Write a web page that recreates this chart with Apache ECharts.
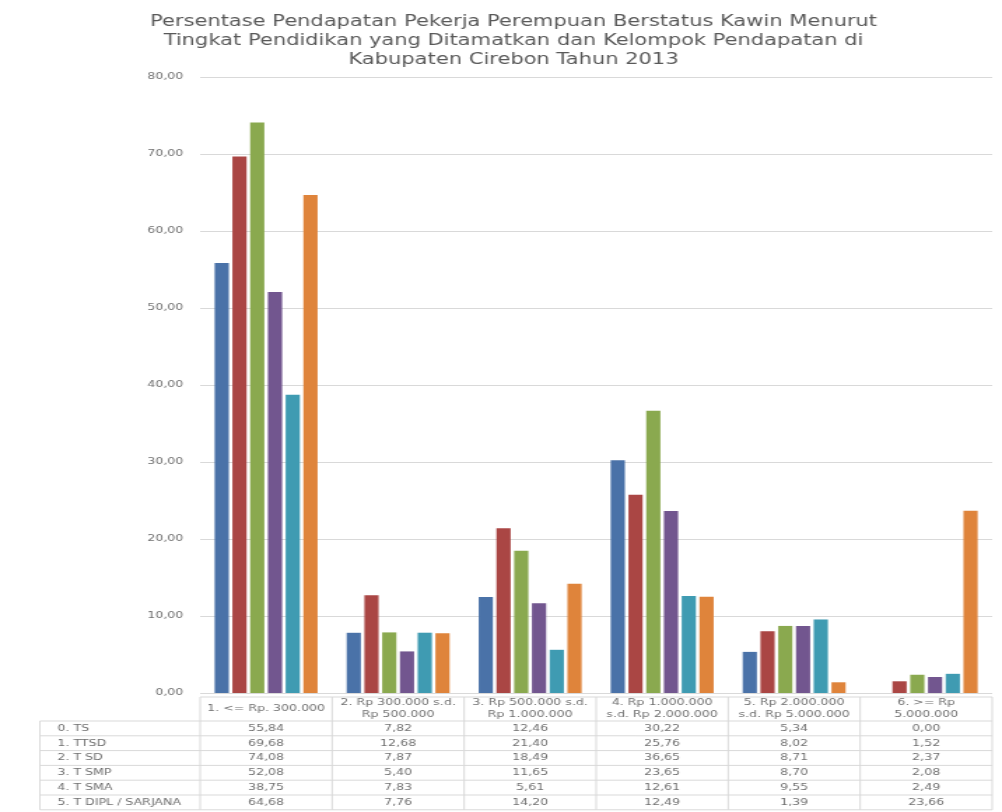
<!DOCTYPE html>
<html>
<head>
<meta charset="utf-8">
<script src="https://cdn.jsdelivr.net/npm/echarts@6/dist/echarts.min.js"></script>
<style>
  html, body { margin: 0; padding: 0; background: #fff; overflow: hidden; }
  /* the source picture is a horizontally stretched Excel chart */
  #chart { width: 716px; height: 812px; transform: scaleX(1.3994); transform-origin: 0 0; }
</style>
</head>
<body>
<div id="chart"></div>
<script>
// kelompok pendapatan (x axis / table columns)
const categories = [
  '1. <= Rp. 300.000',
  '2. Rp 300.000 s.d.\nRp 500.000',
  '3. Rp 500.000 s.d.\nRp 1.000.000',
  '4. Rp 1.000.000\ns.d. Rp 2.000.000',
  '5. Rp 2.000.000\ns.d. Rp 5.000.000',
  '6. >= Rp\n5.000.000'
]
// tingkat pendidikan (series / table rows)
const seriesNames = ['0. TS', '1. TTSD', '2. T SD', '3. T SMP', '4. T SMA', '5. T DIPL / SARJANA']
const ts    = [55.84,  7.82, 12.46, 30.22, 5.34,  0.00]
const ttsd  = [69.68, 12.68, 21.40, 25.76, 8.02,  1.52]
const tsd   = [74.08,  7.87, 18.49, 36.65, 8.71,  2.37]
const tsmp  = [52.08,  5.40, 11.65, 23.65, 8.70,  2.08]
const tsma  = [38.75,  7.83,  5.61, 12.61, 9.55,  2.49]
const tdipl = [64.68,  7.76, 14.20, 12.49, 1.39, 23.66]
const yTicks = [0, 10, 20, 30, 40, 50, 60, 70, 80]

const seriesData = [ts, ttsd, tsd, tsmp, tsma, tdipl]
const colors = ['#4a72a8', '#aa4644', '#8aa94f', '#72568f', '#3f9bb2', '#df843b']
const textColor = '#707070'
const lineColor = '#d9d9d9'
const fmt = v => v.toFixed(2).replace('.', ',')

const chart = echarts.init(document.getElementById('chart'))

chart.setOption({
  animation: false,
  color: colors,
  title: {
    text: 'Persentase Pendapatan Pekerja Perempuan Berstatus Kawin Menurut\nTingkat Pendidikan yang Ditamatkan dan Kelompok Pendapatan di\nKabupaten Cirebon Tahun 2013',
    left: 362, top: 8, textAlign: 'center',
    textStyle: { fontFamily: 'DejaVu Sans', fontSize: 15, fontWeight: 'normal', color: '#595959', lineHeight: 19 }
  },
  grid: { left: 143, right: 7, top: 77, bottom: 119, containLabel: false },
  xAxis: {
    type: 'category',
    data: categories,
    axisLine: { show: false },
    axisTick: { show: false },
    axisLabel: {
      interval: 0, margin: 16, verticalAlign: 'middle',
      fontFamily: 'DejaVu Sans', fontSize: 9, lineHeight: 12, color: textColor
    }
  },
  yAxis: {
    type: 'value', min: yTicks[0], max: yTicks[yTicks.length - 1], interval: 10,
    axisLine: { show: false }, axisTick: { show: false },
    axisLabel: { margin: 12, fontFamily: 'DejaVu Sans', fontSize: 9, color: textColor, formatter: v => fmt(v) },
    splitLine: { lineStyle: { color: lineColor } }
  },
  series: seriesData.map((d, i) => ({
    name: seriesNames[i], type: 'bar', data: d,
    barGap: '25%', barCategoryGap: '22%'
  }))
})

// data table under the plot
const x0 = chart.convertToPixel({ xAxisIndex: 0 }, 0)
const band = chart.convertToPixel({ xAxisIndex: 0 }, 1) - x0
const left = x0 - band / 2
const right = left + band * categories.length
const headTop = 697, rowTop = 721, rowH = 14.8
const bottom = rowTop + rowH * seriesNames.length
const labLeft = 28.5

const g = []
const line = (x1, y1, x2, y2) => g.push({ type: 'line', silent: true,
  shape: { x1, y1, x2, y2 }, style: { stroke: lineColor, lineWidth: 1 } })
const txt = (text, x, y, align) => g.push({ type: 'text', silent: true,
  style: { text, x, y, align, verticalAlign: 'middle', fill: textColor, font: '9px "DejaVu Sans"' } })

line(left, headTop, right, headTop)
for (let r = 0; r <= seriesNames.length; r++) line(labLeft, rowTop + rowH * r, right, rowTop + rowH * r)
line(labLeft, rowTop, labLeft, bottom)
for (let c = 0; c <= categories.length; c++) line(left + band * c, headTop, left + band * c, bottom)

seriesNames.forEach((name, r) => {
  const y = rowTop + rowH * (r + 0.5)
  txt(name, 41, y, 'left')
  seriesData[r].forEach((v, c) => txt(fmt(v), chart.convertToPixel({ xAxisIndex: 0 }, c), y, 'center'))
})

chart.setOption({ graphic: g.map(e => Object.assign(e, { z: 100 })) })
</script>
</body>
</html>
